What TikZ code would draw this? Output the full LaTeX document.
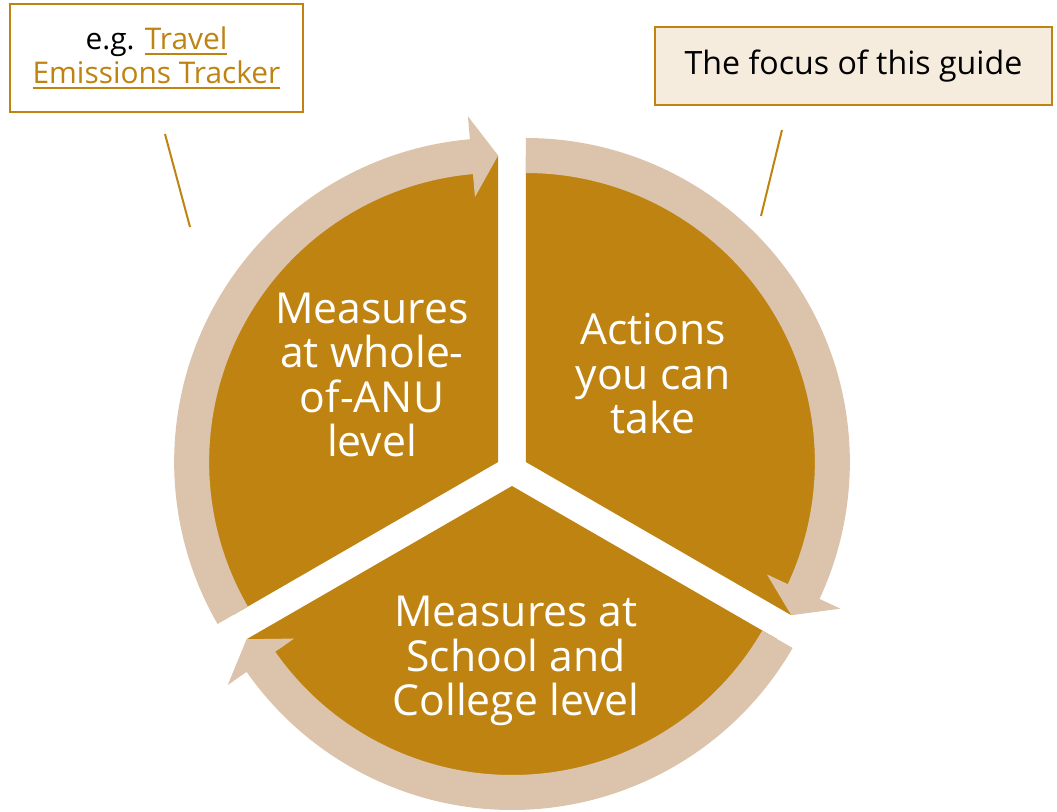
\documentclass[tikz,border=0pt]{standalone}
\usepackage{fontspec}
\setmainfont{Open Sans}
\usetikzlibrary{calc}

\definecolor{ochre}{RGB}{191,131,17}
\definecolor{sand}{RGB}{220,195,172}
\definecolor{cream}{RGB}{245,236,222}

\newcommand\linktext[1]{\textcolor{ochre}{\setbox0\hbox{#1}%
  \rlap{\rule[-4.2pt]{\wd0}{1.3pt}}\box0}}

\tikzset{
  wedge/.style={fill=ochre},
  band/.style={fill=sand},
  seglabel/.style={text=white, align=center, inner sep=0pt,
    font=\fontsize{32}{33.4}\selectfont},
  notebox/.style={draw=ochre, line width=1.8pt, align=center, inner sep=0pt},
  pointer/.style={draw=ochre, line width=1.5pt}
}

\begin{document}
\begin{tikzpicture}[x=0.75pt,y=0.75pt]
\useasboundingbox (0,0) rectangle (1057,811);
\coordinate (O) at (512,341);

% the three pieces, each pushed out from the middle
\foreach \m/\nm in {150/lft, 30/rgt, 270/bot} {
  \coordinate (c\nm) at ($(O)+(\m:16)$);
  \fill[wedge] (c\nm) -- ++(\m+60:306)
    arc[start angle=\m+60, end angle=\m-60, radius=306] -- cycle;
}

% curved arrows round each piece, clockwise
\foreach \m/\nm in {150/lft, 30/rgt, 270/bot} {
  \fill[band] ($(c\nm)+(\m+60:289)$)
    arc[start angle=\m+60, end angle=\m-55, radius=289]
    -- ($(c\nm)+(\m-55:266)$) -- ($(c\nm)+(\m-60:306.5)$)
    -- ($(c\nm)+(\m-55:347)$) -- ($(c\nm)+(\m-55:324)$)
    arc[start angle=\m-55, end angle=\m+60, radius=324] -- cycle;
}

\node[seglabel] (whole) at (372,436) {Measures\\at whole-\\of-ANU\\level};
\node[seglabel] (actions) at (653,437) {Actions\\you can\\take};
\node[seglabel] (school) at (516,150) {Measures at\\School and\\College level};

\node[notebox, fill=white, minimum width=219.75pt, minimum height=81pt,
  font=\fontsize{22.4}{25.5}\selectfont] (tracker) at (156.5,753)
  {e.g. \linktext{Travel}\\\linktext{Emissions Tracker}};
\node[notebox, fill=cream, minimum width=297.75pt, minimum height=58.5pt,
  font=\fontsize{24.1}{28}\selectfont] (focus) at (853.5,745)
  {The focus of this guide};

\coordinate (t1) at (165,677);
\coordinate (t2) at (190,584);
\coordinate (f1) at (782,681);
\coordinate (f2) at (761,595);
\draw[pointer] (t1) -- (t2);
\draw[pointer] (f1) -- (f2);
\end{tikzpicture}
\end{document}
